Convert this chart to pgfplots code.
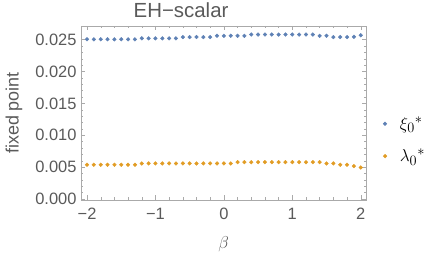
\documentclass[border=0pt]{standalone}
\usepackage{pgfplots}
\pgfplotsset{compat=1.18}
\usepackage{fontspec}
\setmainfont{Liberation Sans}
\definecolor{c1}{RGB}{94,129,181}
\definecolor{c2}{RGB}{225,156,36}
\definecolor{fr}{RGB}{170,170,170}
\definecolor{tx}{RGB}{90,90,90}
\pgfplotstableread{
x xi la
-2.0 0.02505 0.00537
-1.9 0.02505 0.00537
-1.8 0.02505 0.00537
-1.7 0.02505 0.00537
-1.6 0.02505 0.00537
-1.5 0.02505 0.00537
-1.4 0.02505 0.00537
-1.3 0.02505 0.00537
-1.2 0.0252 0.00558
-1.1 0.0252 0.00558
-1.0 0.0252 0.00558
-0.9 0.0252 0.00558
-0.8 0.0252 0.00558
-0.7 0.0252 0.00558
-0.6 0.0254 0.00558
-0.5 0.0254 0.00558
-0.4 0.0254 0.00558
-0.3 0.0254 0.00558
-0.2 0.0254 0.00558
-0.1 0.0256 0.00558
0.0 0.0256 0.00558
0.1 0.0256 0.00558
0.2 0.0256 0.00578
0.3 0.0256 0.00578
0.4 0.0258 0.00578
0.5 0.0258 0.00578
0.6 0.0258 0.00578
0.7 0.0258 0.00578
0.8 0.0258 0.00578
0.9 0.0258 0.00578
1.0 0.0258 0.00578
1.1 0.0258 0.00578
1.2 0.0258 0.00578
1.3 0.0258 0.00578
1.4 0.0256 0.00578
1.5 0.0256 0.00558
1.6 0.0254 0.00558
1.7 0.0254 0.00537
1.8 0.0254 0.00537
1.9 0.02545 0.00516
2.0 0.0257 0.00495
}\data
\begin{document}
\begin{tikzpicture}
\path[use as bounding box] (-81bp,-57bp) rectangle (355bp,200bp);
\begin{axis}[
  scale only axis, width=285bp, height=174bp,
  xmin=-2.088, xmax=2.077, ymin=-0.00016, ymax=0.02714,
  xtick={-2,-1,0,1,2}, xticklabels={−2,−1,0,1,2},
  ytick={0,0.005,0.01,0.015,0.02,0.025},
  yticklabels={0.000,0.005,0.010,0.015,0.020,0.025},
  scaled y ticks=false,
  minor x tick num=4, minor y tick num=4,
  axis line style={fr}, every tick/.style={fr},
  major tick length=4.5bp, minor tick length=2.5bp,
  tick label style={tx, font=\fontsize{16.5}{19}\selectfont},
  xticklabel style={yshift=-5bp},
  yticklabel style={xshift=-1bp},
  title={EH−scalar},
  every axis title shift=0pt,
  title style={tx, font=\fontsize{20.5}{24}\selectfont, at={(rel axis cs:0.351,1)}, anchor=base, yshift=8bp},
  ylabel={fixed point},
  every axis y label/.style={at={(rel axis cs:0,0.5)}, xshift=-67bp, rotate=90, anchor=center, tx, font=\fontsize{18}{21}\selectfont},
  xlabel={$\beta$},
  every axis x label/.style={at={(rel axis cs:0.5,0)}, yshift=-44bp, anchor=center, tx, font=\fontsize{19}{22}\selectfont},
  legend style={draw=none, fill=none, at={(rel axis cs:1,0.345)}, anchor=west, xshift=17bp,
    font=\fontsize{19}{22}\selectfont, cells={anchor=west}, row sep=14bp, inner xsep=0pt,
    /tikz/every odd column/.style={column sep=11bp}},
  legend image code/.code={\draw[mark repeat=2,mark phase=2] plot coordinates {(0cm,0cm)(0.15cm,0cm)(0.3cm,0cm)};},
]
\addplot[only marks, mark=*, mark size=1.85bp, color=c1] table[x=x,y=xi]{\data};
\addplot[only marks, mark=*, mark size=1.85bp, color=c2] table[x=x,y=la]{\data};
\legend{$\xi_0{}^{*}$, $\lambda_0{}^{*}$}
\end{axis}
\end{tikzpicture}
\end{document}
